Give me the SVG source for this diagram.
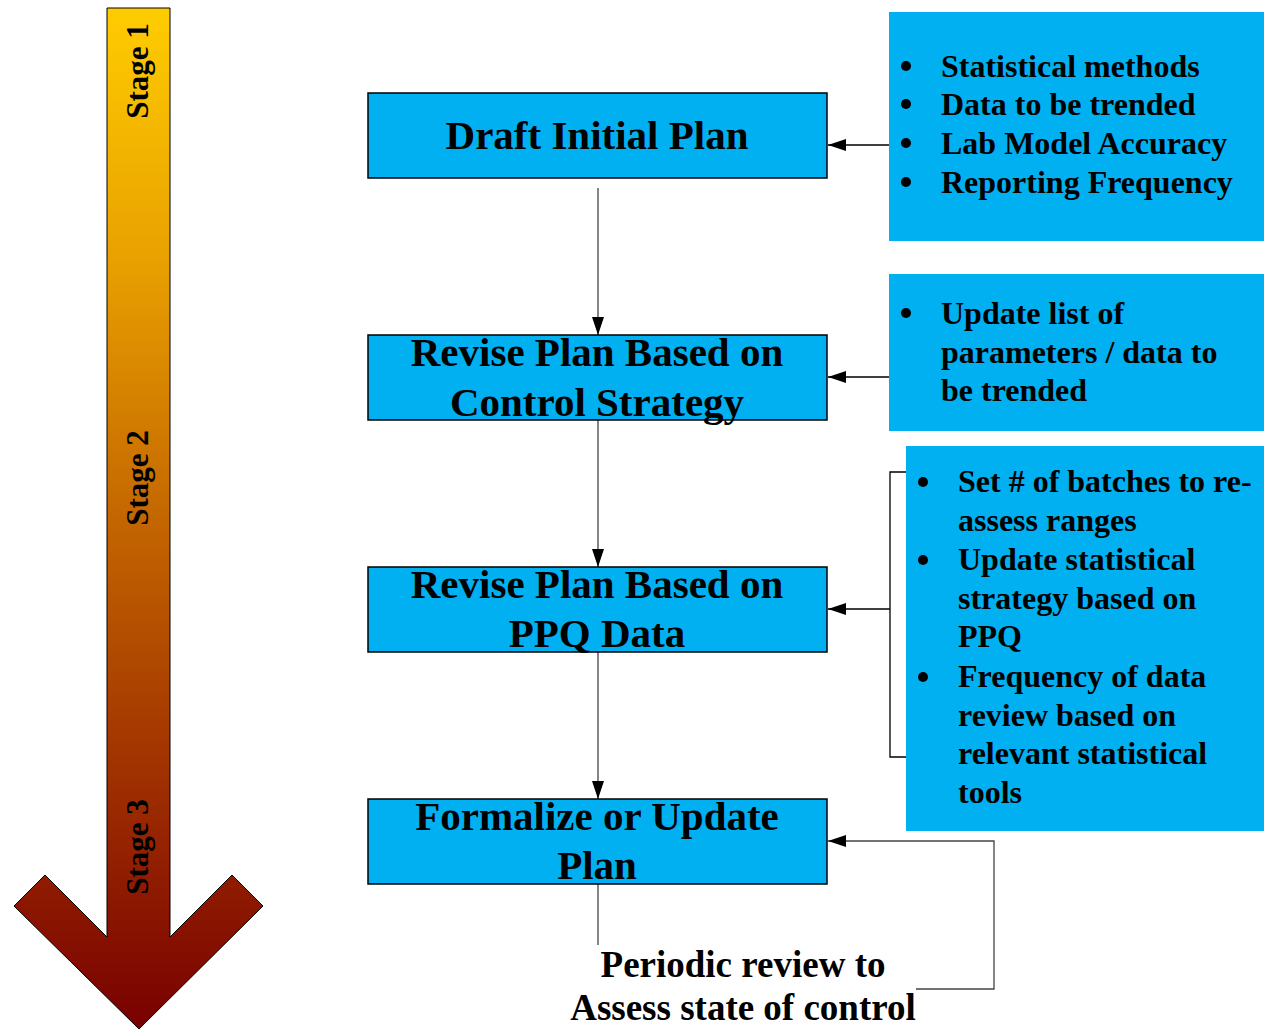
<svg xmlns="http://www.w3.org/2000/svg" width="1264" height="1029" viewBox="0 0 1264 1029">
<style>
.box{fill:#00B0F0;stroke:#000;stroke-width:1.5}
.side{fill:#00B0F0}
.t{font-family:"Liberation Serif","Times New Roman",serif;font-weight:bold;fill:#000}
.main{font-size:41px;text-anchor:middle}
.bl{font-size:32px}
.stage{font-size:31px;text-anchor:middle}
.ln{fill:none;stroke:#444;stroke-width:1.3}
.bk{fill:none;stroke:#000;stroke-width:1.3}
</style>
<defs>
<linearGradient id="g" x1="0" y1="0" x2="0" y2="1">
<stop offset="0" stop-color="#FFCC00"/>
<stop offset="0.25" stop-color="#E8A000"/>
<stop offset="0.5" stop-color="#C46600"/>
<stop offset="0.8" stop-color="#982600"/>
<stop offset="1" stop-color="#780000"/>
</linearGradient>
<marker id="ah" viewBox="0 0 18 12" refX="18" refY="6" markerWidth="18" markerHeight="12" markerUnits="userSpaceOnUse" orient="auto">
<path d="M0,0 L18,6 L0,12 Z" fill="#000"/>
</marker>
</defs>

<g id="stage-arrow">
<polygon points="107,8 170,8 170,937 232,875 263,906 139,1029 14,906 45,875 107,937" fill="url(#g)" stroke="#000" stroke-width="1"/>
<text class="t stage" transform="translate(148,71) rotate(-90)">Stage 1</text>
<text class="t stage" transform="translate(148,478) rotate(-90)">Stage 2</text>
<text class="t stage" transform="translate(148,847) rotate(-90)">Stage 3</text>
</g>

<g id="connectors">
<line class="ln" x1="598" y1="188" x2="598" y2="335" marker-end="url(#ah)"/>
<line class="ln" x1="598" y1="420" x2="598" y2="567" marker-end="url(#ah)"/>
<line class="ln" x1="598" y1="652" x2="598" y2="799" marker-end="url(#ah)"/>
<line class="ln" x1="598" y1="884" x2="598" y2="945"/>
<line class="bk" x1="889" y1="145" x2="828" y2="145" marker-end="url(#ah)"/>
<line class="bk" x1="889" y1="377" x2="828" y2="377" marker-end="url(#ah)"/>
<polyline class="bk" points="906,472 890,472 890,757 906,757"/>
<line class="bk" x1="890" y1="609" x2="828" y2="609" marker-end="url(#ah)"/>
<polyline class="ln" points="916,989 994,989 994,841 828,841" marker-end="url(#ah)"/>
</g>

<g id="draft">
<rect class="box" x="368" y="93" width="459" height="85"/>
<text class="t main" x="597" y="149">Draft Initial Plan</text>
</g>
<g id="revise-control">
<rect class="box" x="368" y="335" width="459" height="85"/>
<text class="t main" x="597" y="366">Revise Plan Based on</text>
<text class="t main" x="597" y="416">Control Strategy</text>
</g>
<g id="revise-ppq">
<rect class="box" x="368" y="567" width="459" height="85"/>
<text class="t main" x="597" y="598">Revise Plan Based on</text>
<text class="t main" x="597" y="647">PPQ Data</text>
</g>
<g id="formalize">
<rect class="box" x="368" y="799" width="459" height="85"/>
<text class="t main" x="597" y="830">Formalize or Update</text>
<text class="t main" x="597" y="879">Plan</text>
</g>

<g id="side1">
<rect class="side" x="889" y="12" width="375" height="229"/>
<circle cx="906" cy="66" r="5"/><circle cx="906" cy="104" r="5"/><circle cx="906" cy="143" r="5"/><circle cx="906" cy="182" r="5"/>
<text class="t bl" x="941" y="77">Statistical methods</text>
<text class="t bl" x="941" y="115">Data to be trended</text>
<text class="t bl" x="941" y="154">Lab Model Accuracy</text>
<text class="t bl" x="941" y="193">Reporting Frequency</text>
</g>

<g id="side2">
<rect class="side" x="889" y="274" width="375" height="157"/>
<circle cx="906" cy="313" r="5"/>
<text class="t bl" x="941" y="324">Update list of</text>
<text class="t bl" x="941" y="363">parameters / data to</text>
<text class="t bl" x="941" y="401">be trended</text>
</g>

<g id="side3">
<rect class="side" x="906" y="446" width="358" height="385"/>
<circle cx="923" cy="482" r="5"/><circle cx="923" cy="560" r="5"/><circle cx="923" cy="677" r="5"/>
<text class="t bl" x="958" y="492">Set # of batches to re-</text>
<text class="t bl" x="958" y="531">assess ranges</text>
<text class="t bl" x="958" y="570">Update statistical</text>
<text class="t bl" x="958" y="609">strategy based on</text>
<text class="t bl" x="958" y="647">PPQ</text>
<text class="t bl" x="958" y="687">Frequency of data</text>
<text class="t bl" x="958" y="726">review based on</text>
<text class="t bl" x="958" y="764">relevant statistical</text>
<text class="t bl" x="958" y="803">tools</text>
</g>

<g id="periodic">
<text class="t" style="font-size:37px;text-anchor:middle" x="743" y="977">Periodic review to</text>
<text class="t" style="font-size:37px;text-anchor:middle" x="743" y="1020">Assess state of control</text>
</g>
</svg>
